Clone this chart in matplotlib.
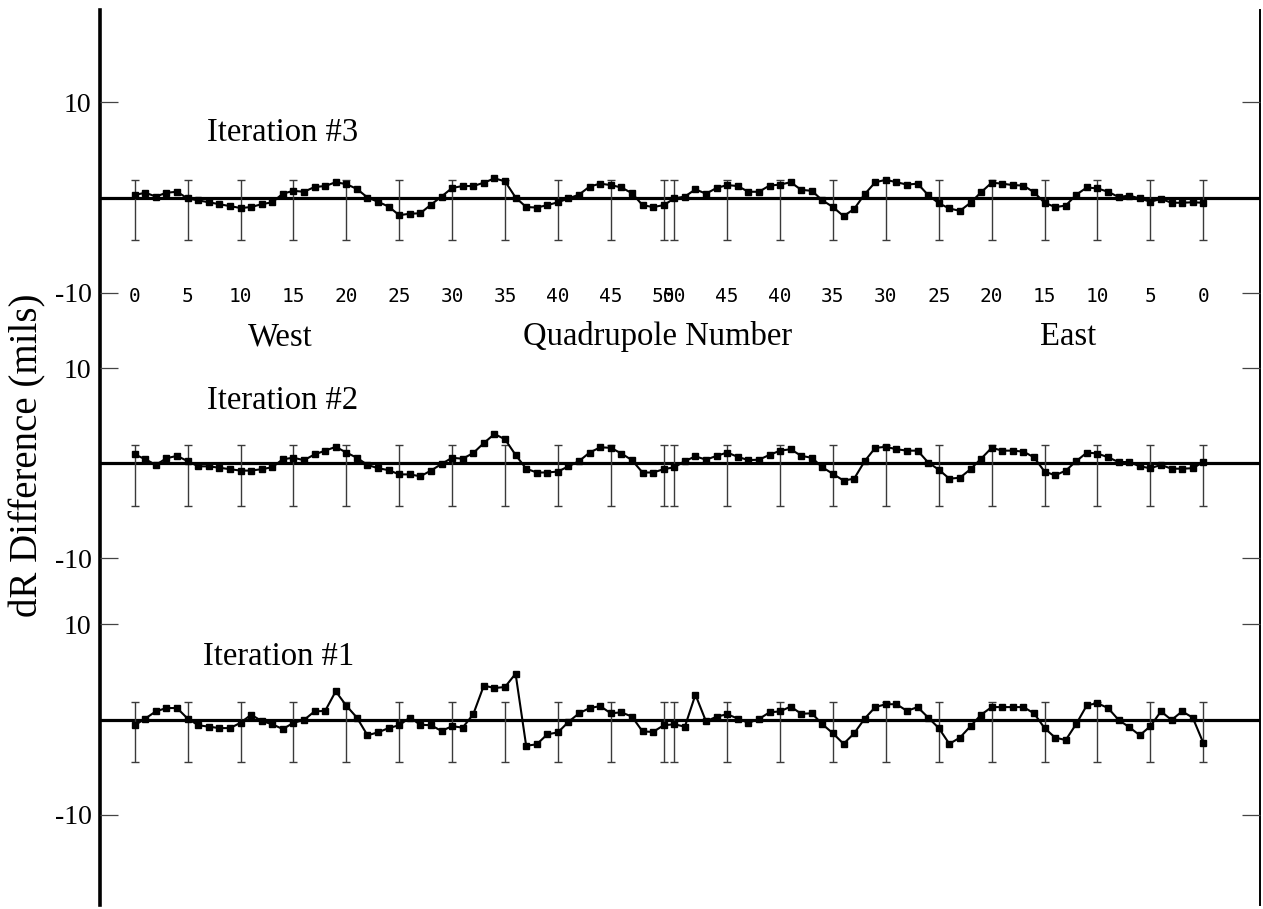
import matplotlib
matplotlib.use("Agg")
import matplotlib.pyplot as plt
import numpy as np

# ---------------- data ----------------
west_quads = list(range(0, 51))          # West 0..50
east_quads = list(range(50, -1, -1))     # East 50..0 (display order)

iter3_west = [0.26, 0.5, 0.1, 0.5, 0.6, -0.1, -0.3, -0.5, -0.7, -0.9, -1.1,
              -1.0, -0.7, -0.5, 0.4, 0.7, 0.6, 1.1, 1.2, 1.6, 1.4,
              0.9, 0.0, -0.45, -0.95, -1.85, -1.7, -1.65, -0.75, 0.1, 1.0,
              1.2, 1.2, 1.55, 2.0, 1.7, 0.0, -1.0, -1.05, -0.8, -0.5,
              -0.1, 0.3, 1.15, 1.45, 1.3, 1.05, 0.45, -0.8, -1.0, -0.8]
iter3_east = [-0.1, 0.1, 0.85, 0.4, 1.0, 1.3, 1.2, 0.6, 0.6, 1.25,
              1.35, 1.6, 0.8, 0.7, -0.3, -1.0, -1.95, -1.2, 0.35, 1.6,
              1.85, 1.6, 1.35, 1.45, 0.25, -0.6, -1.15, -1.4, -0.55, 0.55,
              1.55, 1.45, 1.3, 1.25, 0.55, -0.55, -1.0, -0.85, 0.3, 1.05,
              0.95, 0.6, 0.05, 0.2, -0.1, -0.45, -0.15, -0.55, -0.55, -0.5, -0.55]

iter2_west = [0.9, 0.4, -0.2, 0.5, 0.75, 0.2, -0.35, -0.35, -0.5, -0.65, -0.8,
              -0.8, -0.65, -0.45, 0.4, 0.55, 0.3, 0.9, 1.3, 1.7, 1.1,
              0.55, -0.2, -0.55, -0.75, -1.2, -1.2, -1.4, -0.8, -0.1, 0.55,
              0.45, 1.05, 2.1, 3.05, 2.5, 0.85, -0.6, -1.0, -1.0, -0.9,
              -0.35, 0.2, 1.1, 1.65, 1.6, 1.0, 0.3, -1.0, -1.0, -0.65]
iter2_east = [-0.45, 0.2, 0.7, 0.35, 0.75, 1.1, 0.65, 0.3, 0.35, 0.85,
              1.3, 1.45, 0.75, 0.55, -0.45, -1.15, -1.85, -1.65, 0.2, 1.6,
              1.7, 1.45, 1.3, 1.3, 0.05, -0.7, -1.65, -1.55, -0.65, 0.45,
              1.6, 1.3, 1.3, 1.2, 0.6, -0.9, -1.3, -0.8, 0.2, 1.1,
              1.0, 0.6, 0.1, 0.1, -0.35, -0.55, -0.2, -0.6, -0.6, -0.55, 0.1]

iter1_west = [-0.6, 0.1, 0.85, 1.2, 1.2, 0.1, -0.6, -0.75, -0.9, -0.9, -0.35,
              0.5, -0.15, -0.5, -1.0, -0.35, -0.05, 0.85, 0.9, 2.95, 1.45,
              0.2, -1.65, -1.35, -0.9, -0.6, 0.2, -0.55, -0.6, -1.2, -0.7,
              -0.85, 0.55, 3.55, 3.3, 3.4, 4.8, -2.75, -2.6, -1.55, -1.35,
              -0.25, 0.65, 1.2, 1.4, 0.65, 0.75, 0.3, -1.25, -1.3, -0.6]
iter1_east = [-0.5, -0.75, 2.6, -0.2, 0.3, 0.55, 0.1, -0.35, 0.05, 0.75,
              0.85, 1.35, 0.6, 0.65, -0.5, -1.45, -2.55, -1.45, 0.1, 1.3,
              1.6, 1.6, 0.9, 1.3, 0.2, -0.9, -2.55, -1.9, -0.7, 0.5,
              1.3, 1.3, 1.3, 1.3, 0.65, -0.9, -1.9, -2.15, -0.45, 1.5,
              1.7, 1.2, -0.05, -0.8, -1.65, -0.7, 0.85, -0.05, 0.85, 0.2, -2.45]

err_quads = [0, 5, 10, 15, 20, 25, 30, 35, 40, 45, 50]
err_up = 1.85
err_down = 4.5

iteration_labels = ["Iteration #3", "Iteration #2", "Iteration #1"]
y_ticks = [-10, 10]

# ---------------- layout ----------------
W, H = 1263, 909
fig = plt.figure(figsize=(W / 100, H / 100), dpi=100)

serif = "Liberation Serif"
mono = "DejaVu Sans Mono"

AX_L, AX_R = 100, 1260
X0_PX, X_STEP = 134.7, 10.58     # pixel of position 0, pixels per quad
xlim = ((AX_L - X0_PX) / X_STEP, (AX_R - X0_PX) / X_STEP)


def add_px_axes(left, top, right, bottom, **kw):
    return fig.add_axes([left / W, 1 - bottom / H, (right - left) / W, (bottom - top) / H], **kw)


# frame axes: full height vertical lines
frame = add_px_axes(AX_L, 10, AX_R, 905)
frame.patch.set_alpha(0)
frame.set_xticks([]); frame.set_yticks([])
frame.spines["top"].set_visible(False)
frame.spines["bottom"].set_visible(False)
frame.spines["left"].set_linewidth(2.6)
frame.spines["right"].set_linewidth(1.4)

# x positions: west i -> i ; east j -> 101 - j
x_west = np.array(west_quads, dtype=float)
x_east = 101 - np.array(east_quads, dtype=float)
x_all = np.concatenate([x_west, x_east])
err_x = np.concatenate([np.array(err_quads, float), 101 - np.array(err_quads[::-1], float)])

panels = [
    (iter3_west, iter3_east, 197.5, 9.55, -10.5),
    (iter2_west, iter2_east, 463.0, 9.5, -12.0),
    (iter1_west, iter1_east, 719.5, 9.55, -12.0),
]
label_y = [133, 401, 657]
label_x = [207, 207, 203]

for k, (yw, ye, zero_px, s, ylo) in enumerate(panels):
    yhi = 12.0
    ax = add_px_axes(AX_L, zero_px - yhi * s, AX_R, zero_px - ylo * s)
    ax.patch.set_alpha(0)
    for sp in ax.spines.values():
        sp.set_visible(False)
    ax.set_xlim(*xlim)
    ax.set_ylim(ylo, yhi)
    ax.axhline(0, color="black", lw=2.3, zorder=2)
    ax.errorbar(err_x, np.zeros_like(err_x),
                yerr=[np.full_like(err_x, err_down), np.full_like(err_x, err_up)],
                fmt="none", ecolor="#3a3a3a", elinewidth=1.0, capsize=3, capthick=1.0, zorder=3)
    ax.plot(x_all, np.concatenate([yw, ye]), color="black", lw=1.5,
            marker="s", ms=5, zorder=4)
    ax.set_yticks(y_ticks)
    ax.set_yticklabels([str(v) for v in y_ticks])
    ax.tick_params(axis="y", direction="in", length=13, width=0.9, color="#444444",
                   left=True, right=True, labelleft=True, labelright=False,
                   labelsize=20, pad=6)
    for t in ax.get_yticklabels():
        t.set_fontfamily(serif)
    if k == 0:
        ax.set_xticks(err_x)
        ax.set_xticklabels([str(q) for q in err_quads] + [str(q) for q in err_quads[::-1]])
        ax.tick_params(axis="x", length=0, labelsize=14, pad=-8)
        for t in ax.get_xticklabels():
            t.set_fontfamily(mono)
    else:
        ax.set_xticks([])
    fig.text(label_x[k] / W, 1 - label_y[k] / H, iteration_labels[k], ha="left",
             va="center", fontsize=23.5, family=serif)

fig.text(280 / W, 1 - 337 / H, "West", ha="center", va="center", fontsize=23.5, family=serif)
fig.text(658 / W, 1 - 337 / H, "Quadrupole Number", ha="center", va="center", fontsize=23.5, family=serif)
fig.text(1068 / W, 1 - 337 / H, "East", ha="center", va="center", fontsize=23.5, family=serif)
fig.text(28 / W, 1 - 455 / H, "dR Difference (mils)", rotation=90, ha="center", va="center",
         fontsize=28, family=serif)

fig.savefig("out.png", dpi=100)
